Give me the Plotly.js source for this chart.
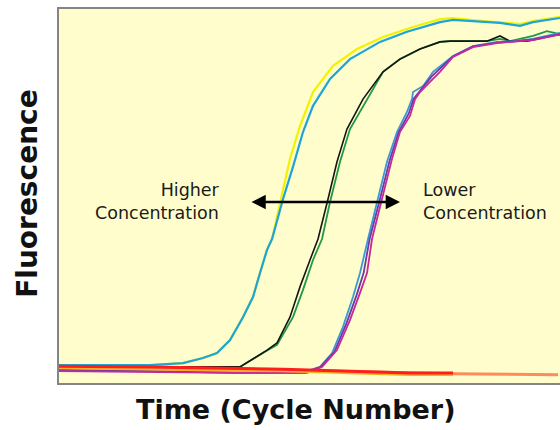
<!DOCTYPE html>
<html>
<head>
<meta charset="utf-8">
<script src="https://cdn.plot.ly/plotly-3.0.1.min.js"></script>
<style>html,body{margin:0;padding:0;background:#fff;}#chart{width:560px;height:430px;}</style>
</head>
<body>
<div id="chart"></div>
<script>
// Cycle numbers (x) and fluorescence (relative units, y)
const yellowX = [0, 9.08, 12.38, 14.37, 15.77, 17.07, 18.36, 19.36, 20.06, 20.76, 21.26, 22.06, 23.05, 24.05, 25.35, 27.35, 29.74, 32.34, 35.33, 38.02, 39.32, 42.32, 44.01, 46.01, 47.31, 50];
const yellowY = [4.8, 4.8, 5.3, 6.7, 8.0, 11.5, 17.6, 23.0, 29.4, 35.6, 38.5, 48.4, 59.9, 68.7, 77.8, 84.8, 89.3, 92.5, 95.2, 97.3, 97.6, 96.8, 96.5, 96.0, 96.8, 97.9];

const cyanX = [0, 9.08, 12.38, 14.37, 15.77, 17.07, 18.36, 19.36, 20.06, 20.76, 21.26, 22.36, 23.35, 24.35, 25.35, 27.05, 29.04, 32.04, 34.73, 38.02, 39.32, 42.32, 44.01, 46.01, 47.31, 50];
const cyanY = [4.8, 4.8, 5.3, 6.7, 8.0, 11.5, 17.6, 23.0, 29.4, 35.6, 38.5, 49.2, 57.8, 67.1, 74.1, 81.3, 86.6, 91.2, 93.9, 96.5, 97.1, 96.5, 96.3, 95.5, 96.5, 97.6];

const blackX = [0, 9.08, 18.06, 20.76, 21.76, 23.05, 24.05, 25.05, 25.85, 26.85, 27.74, 28.74, 30.34, 32.34, 34.03, 36.03, 38.02, 39.02, 40.72, 42.71, 44.01, 45.01, 46.71, 50];
const blackY = [4.3, 4.3, 4.3, 8.8, 10.7, 17.6, 25.7, 32.9, 38.5, 49.2, 59.1, 67.9, 75.9, 83.2, 86.6, 89.3, 91.2, 91.4, 91.4, 91.4, 92.8, 91.4, 91.4, 93.3];

const greenX = [0, 9.08, 18.06, 20.86, 21.76, 23.35, 24.35, 25.35, 26.25, 27.05, 28.04, 29.04, 30.74, 32.34, 34.03, 36.03, 38.02, 39.02, 40.72, 42.71, 44.01, 45.01, 47.31, 48.70, 50];
const greenY = [4.3, 4.3, 4.3, 8.8, 10.2, 17.6, 24.9, 32.9, 38.5, 48.4, 59.1, 67.9, 75.9, 83.2, 86.6, 89.3, 91.2, 91.4, 91.4, 91.4, 92.0, 91.4, 92.8, 94.1, 93.3];

const blueX = [0, 9.08, 17.37, 24.35, 26.05, 27.25, 28.34, 29.34, 30.04, 30.84, 31.74, 32.73, 33.73, 34.73, 35.23, 35.33, 36.33, 37.33, 39.32, 41.32, 43.71, 45.31, 47.31, 49.70, 50];
const blueY = [3.5, 3.2, 2.9, 2.9, 4.3, 8.0, 15.0, 23.0, 29.4, 38.5, 48.4, 59.1, 67.1, 72.5, 75.9, 77.8, 79.4, 83.2, 87.4, 90.1, 91.2, 91.4, 92.0, 93.3, 93.6];

const purpleX = [0, 9.08, 17.37, 24.5, 26.1, 27.5, 28.7, 29.7, 30.4, 31.0, 32.0, 33.0, 33.9, 34.9, 35.4, 36.2, 37.2, 39.3, 41.3, 43.7, 45.3, 47.3, 49.7, 50];
const purpleY = [3.5, 3.2, 2.7, 2.7, 4.3, 8.4, 16.0, 23.5, 29.4, 38.5, 48.8, 59.5, 67.1, 72.0, 76.0, 78.8, 82.0, 87.3, 90.0, 91.0, 91.3, 91.9, 93.2, 93.3];

const magentaX = [0, 9.08, 17.37, 24.75, 26.25, 27.74, 29.04, 30.04, 30.74, 31.24, 32.24, 33.23, 34.03, 35.03, 35.53, 36.03, 37.03, 38.02, 39.32, 41.32, 43.71, 45.31, 47.31, 49.70, 50];
const magentaY = [3.2, 2.9, 2.7, 2.7, 4.3, 8.8, 16.8, 24.1, 29.4, 38.5, 49.2, 59.9, 67.1, 71.4, 75.9, 77.8, 80.5, 83.2, 87.2, 89.8, 90.9, 91.2, 91.7, 93.0, 93.0];

const salmonX = [0, 22.36, 39.32, 49.8];
const salmonY = [4.3, 3.5, 2.5, 2.2];
const orangeX = [0, 22.36, 35.03, 39.32];
const orangeY = [4.0, 3.2, 2.2, 2.2];
const redX = [0, 9.08, 22.36, 35.03, 39.32];
const redY = [4.5, 4.3, 3.7, 2.7, 2.7];

const xTitle = 'Time (Cycle Number)';
const yTitle = 'Fluorescence';
const leftLabel = 'Higher<br>Concentration';
const rightLabel = 'Lower<br>Concentration';

function line(x, y, color, width) {
  return {x: x, y: y, type: 'scatter', mode: 'lines', line: {color: color, width: width, shape: 'linear'}, hoverinfo: 'skip'};
}

const traces = [
  line(yellowX, yellowY, '#F2F200', 2.2),
  line(cyanX, cyanY, '#1DA5D6', 2.2),
  line(greenX, greenY, '#1E9A45', 1.8),
  line(blackX, blackY, '#151515', 1.6),
  line(blueX, blueY, '#3A98D8', 1.8),
  line(purpleX, purpleY, '#6A3AA8', 1.8),
  line(magentaX, magentaY, '#C8289A', 1.8),
  line(salmonX, salmonY, '#FF8A5A', 3),
  line(orangeX, orangeY, '#FFB020', 2.5),
  line(redX, redY, '#FF1E1E', 3)
];

const layout = {
  width: 560, height: 430,
  margin: {l: 59, r: 0, t: 9, b: 47, pad: 0},
  paper_bgcolor: '#ffffff',
  plot_bgcolor: '#FFFDCC',
  showlegend: false,
  xaxis: {range: [0, 50], showgrid: false, zeroline: false, showticklabels: false, ticks: '',
          showline: true, mirror: true, linecolor: '#858585', linewidth: 2, fixedrange: true},
  yaxis: {range: [0, 100], showgrid: false, zeroline: false, showticklabels: false, ticks: '',
          showline: true, mirror: false, linecolor: '#858585', linewidth: 2, fixedrange: true},
  annotations: [
    {xref: 'paper', yref: 'paper', x: 0.474, y: -0.07, xanchor: 'center', yanchor: 'middle', showarrow: false,
     text: xTitle, font: {family: 'DejaVu Sans', size: 27, color: '#111', weight: 'bold'}},
    {xref: 'paper', yref: 'paper', x: -0.063, y: 0.507, xanchor: 'center', yanchor: 'middle', showarrow: false,
     textangle: -90, text: yTitle, font: {family: 'DejaVu Sans', size: 28, color: '#111', weight: 'bold'}},
    {xref: 'x', yref: 'y', x: 16.3, y: 48.6, xanchor: 'right', yanchor: 'middle', align: 'right', showarrow: false,
     text: leftLabel, font: {family: 'DejaVu Sans', size: 17.5, color: '#1a1a1a'}},
    {xref: 'x', yref: 'y', x: 36.1, y: 48.6, xanchor: 'left', yanchor: 'middle', align: 'left', showarrow: false,
     text: rightLabel, font: {family: 'DejaVu Sans', size: 17.5, color: '#1a1a1a'}},
    {xref: 'x', yref: 'y', axref: 'x', ayref: 'y', x: 34.03, y: 48.4, ax: 19.06, ay: 48.4,
     text: '', showarrow: true, arrowside: 'end+start', arrowhead: 2, startarrowhead: 2,
     arrowsize: 1.1, startarrowsize: 1.1, arrowwidth: 2.6, arrowcolor: '#000', standoff: 0, startstandoff: 0}
  ]
};

Plotly.newPlot('chart', traces, layout, {staticPlot: true, displayModeBar: false});
</script>
</body>
</html>
